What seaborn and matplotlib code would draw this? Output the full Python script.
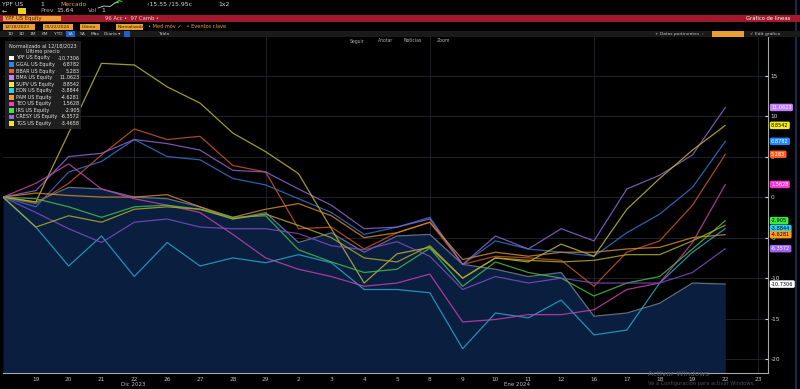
import matplotlib
matplotlib.use("Agg")
import matplotlib.pyplot as plt
import matplotlib.transforms as mtrans
from matplotlib.patches import Rectangle
import seaborn as sns
import pandas as pd

# ---------------- data ----------------
day_labels = ["18", "19", "20", "21", "22", "26", "27", "28", "29", "2", "3", "4",
              "5", "8", "9", "10", "11", "12", "16", "17", "18", "19", "22"]
tick_labels = day_labels[1:] + ["23"]

tickers = ["YPF US Equity", "GGAL US Equity", "BBAR US Equity", "BMA US Equity",
           "SUPV US Equity", "EDN US Equity", "PAM US Equity", "TEO US Equity",
           "IRS US Equity", "CRESY US Equity", "TGS US Equity"]
last_values = ["-10.7306", "6.8782", "5.283", "11.0623", "8.8542", "-3.8844",
               "-4.6281", "1.5628", "-2.905", "-6.3572", "-3.4658"]

ypf = [0, -0.6, 1.2, 1.0, 0, -0.2, -1.2, -2.7, -1.9, -5.6, -4.4, -6.8,
       -4.8, -4.6, -8.3, -8.9, -9.8, -9.3, -14.7, -14.3, -13.1, -10.6, -10.73]
ggal = [0, -1.2, 3.1, 4.4, 7.1, 5.0, 4.6, 2.3, 1.5, -0.2, -1.9, -4.6,
        -3.7, -2.5, -8.3, -5.4, -6.4, -6.8, -7.3, -4.4, -2.1, 1.2, 6.88]
bbar = [0, -0.8, 1.7, 5.2, 8.4, 7.1, 7.5, 3.9, 3.1, -3.9, -3.7, -6.4,
        -4.4, -3.1, -8.3, -7.3, -7.5, -7.8, -11.0, -6.8, -5.4, -1.0, 5.28]
bma = [0, 0.8, 5.0, 5.4, 7.1, 6.6, 5.8, 3.3, 3.1, 1.0, -1.0, -3.9,
       -3.7, -2.7, -8.3, -4.8, -6.4, -3.9, -5.4, 1.0, 2.7, 5.2, 11.06]
supv = [0, -0.6, 7.9, 16.5, 16.3, 13.6, 11.6, 7.9, 5.6, 2.9, -3.9, -10.6,
        -7.0, -6.2, -10.0, -7.5, -8.0, -5.8, -7.3, -1.5, 2.3, 5.8, 8.85]
edn = [0, -3.7, -8.5, -4.8, -9.8, -5.6, -8.5, -7.5, -8.1, -7.1, -8.1, -11.4,
       -11.4, -11.8, -18.7, -14.3, -14.9, -12.7, -17.0, -16.4, -10.6, -6.8, -3.88]
pam = [0, 0.5, 0.2, 0, 0, 0.3, -1.2, -2.5, -1.5, -0.8, -2.3, -5.0,
       -4.4, -3.1, -7.7, -6.8, -7.3, -6.8, -6.8, -6.4, -6.2, -5.0, -4.63]
teo = [0, 1.7, 4.1, 1.0, -0.2, -1.0, -1.9, -4.6, -7.5, -8.9, -9.8, -11.0,
       -10.6, -9.5, -15.4, -15.1, -14.5, -14.5, -13.9, -11.4, -10.6, -5.6, 1.56]
irs = [0, -0.2, -1.2, -2.5, -1.2, -1.0, -1.5, -2.5, -2.3, -6.5, -8.0, -9.3,
       -8.9, -6.3, -11.0, -8.0, -9.3, -10.0, -12.2, -10.6, -9.8, -6.4, -2.905]
cresy = [0, -1.9, -3.9, -5.6, -3.1, -2.7, -3.7, -3.9, -3.9, -4.5, -6.0, -6.5,
         -5.5, -7.3, -11.4, -9.8, -10.6, -10.0, -10.6, -10.6, -10.6, -9.3, -6.36]
tgs = [0, -3.7, -2.3, -3.1, -1.5, -1.2, -1.5, -2.7, -2.1, -3.5, -5.0, -7.5,
       -8.0, -6.0, -10.0, -7.5, -7.8, -8.0, -7.8, -7.1, -7.1, -5.4, -3.47]

series = [ypf, ggal, bbar, bma, supv, edn, pam, teo, irs, cresy, tgs]

line_colors = ["#70819a", "#2f74d0", "#c8532c", "#8a64cc", "#bcb434", "#24a6c8",
               "#d08a2c", "#c440ac", "#46bb46", "#7a4cc0", "#b0a828"]
legend_colors = ["#ffffff", "#1e88ff", "#ff5a1e", "#c080ff", "#f5ec1e", "#1ed2ff",
                 "#ff9c1e", "#ff36d2", "#3ceb3c", "#a062f5", "#f5e61e"]
label_text_colors = ["#000000", "#ffffff", "#ffffff", "#ffffff", "#000000", "#000000",
                     "#000000", "#ffffff", "#000000", "#ffffff", "#000000"]

rows = []
for t, vals in zip(tickers, series):
    for i, v in enumerate(vals):
        rows.append({"idx": i, "value": v, "ticker": t})
df = pd.DataFrame(rows)

# ---------------- figure ----------------
sns.set_theme(style="dark")
plt.rcParams['font.family'] = ['DejaVu Sans']

W, H = 800, 389
fig = plt.figure(figsize=(8, 3.89), dpi=100)
fig.patch.set_facecolor("black")


def fx(x):
    return x / W


def fy(y):
    return 1 - y / H


def frect(x, y, w, h, color, z=1, alpha=1.0):
    fig.patches.append(Rectangle((fx(x), fy(y + h)), w / W, h / H, transform=fig.transFigure,
                                 facecolor=color, edgecolor="none", zorder=z, alpha=alpha))


def ftext(x, y, s, size=4.2, color="#d0d0d0", ha="left", weight="normal", z=5):
    fig.text(fx(x), fy(y), s, fontsize=size, color=color, ha=ha, va="center",
             fontweight=weight, zorder=z)


ax = fig.add_axes([fx(3), fy(373), (768 - 3) / W, (373 - 37) / H])
ax.set_facecolor("black")
ax.set_xlim(0, 23.3)
ax.set_ylim(-21.7, 19.75)

# grid
for yv in range(-20, 20, 5):
    ax.axhline(yv, color="#23282e", lw=0.6, zorder=0)
for xv in [4, 8, 13, 18, 23]:
    ax.axvline(xv, color="#23282e", lw=0.6, zorder=0)

# YPF area
ax.fill_between(range(len(ypf)), ypf, -21.7, color="#0a1e3f", zorder=1, lw=0)

palette = dict(zip(tickers, line_colors))
sns.lineplot(data=df, x="idx", y="value", hue="ticker", palette=palette,
             hue_order=tickers, legend=False, linewidth=0.9, ax=ax, zorder=3, alpha=0.85)

# axes styling
ax.yaxis.tick_right()
ax.set_yticks(range(-20, 20, 5))
ax.set_yticklabels([str(v) for v in range(-20, 20, 5)])
ax.tick_params(axis="y", colors="#d8d8d8", labelsize=4.2, length=2, width=0.8, pad=2,
               direction="in")
ax.set_xticks(range(1, 24))
ax.set_xticklabels(tick_labels)
ax.tick_params(axis="x", colors="#bdbdbd", labelsize=4.2, length=0, pad=3)
ax.set_xlabel("")
ax.set_ylabel("")
ax.grid(False)
for s in ["top", "left"]:
    ax.spines[s].set_visible(False)
for s in ["bottom", "right"]:
    ax.spines[s].set_color("#a8a8a8")
    ax.spines[s].set_linewidth(0.8)

# month labels
ftext(133, 384, "Dic 2023", size=4.0, color="#bdbdbd", ha="center")
ftext(517, 384, "Ene 2024", size=4.0, color="#bdbdbd", ha="center")

# right value labels (all but TGS, hidden in the reference)
blend = mtrans.blended_transform_factory(ax.transAxes, ax.transData)
for t, vals, col, tc, lab in zip(tickers, series, legend_colors, label_text_colors, last_values):
    if t.startswith("TGS"):
        continue
    ax.text(1.004, vals[-1], lab, transform=blend, fontsize=3.6, color=tc, va="center",
            ha="left", zorder=10, clip_on=False,
            bbox=dict(boxstyle="round,pad=0.25,rounding_size=0.3", fc=col, ec="none"))

# legend box
frect(5, 41, 76, 88, "#232323", z=6, alpha=0.9)
ftext(43, 45.5, "Normalizado al 12/18/2023", size=3.6, color="#e0e0e0", ha="center", z=7)
ftext(43, 51.5, "Último precio", size=3.6, color="#e0e0e0", ha="center", z=7)
for k, (t, col, lab) in enumerate(zip(tickers, legend_colors, last_values)):
    yy = 58 + k * 6.55
    frect(9, yy - 2.3, 4.6, 4.6, col, z=7)
    ftext(16, yy, t, size=3.5, color="#e6e6e6", z=7)
    ftext(80, yy, lab, size=3.5, color="#e6e6e6", ha="right", z=7)

# ---------------- top Bloomberg UI ----------------
ftext(2, 4, "YPF US", size=4.4, color="#d8d8d8")
ftext(40, 4, "1", size=4.4, color="#d8d8d8")
ftext(60, 4, "Mercado", size=4.4, color="#e8a030")
fig.lines.append(plt.Line2D([fx(98), fx(104), fx(110), fx(115), fx(119)],
                            [fy(8), fy(6), fy(6.5), fy(3), fy(2)],
                            transform=fig.transFigure, color="#d8d8d8", lw=0.6))
fig.lines.append(plt.Line2D([fx(114), fx(119), fx(122)], [fy(3.5), fy(0.5), fy(1.5)],
                            transform=fig.transFigure, color="#30e030", lw=0.7))
ftext(147, 4, "‹15.55 /15.95c", size=4.4, color="#d8d8d8")
ftext(218, 4, "1x2", size=4.4, color="#d8d8d8")
ftext(2, 11, "←", size=4.4, color="#d8d8d8")
frect(18, 8, 8, 6, "#e8d020")
ftext(40, 11, "Prev", size=4.4, color="#a8a8a8")
ftext(56, 11, "15.64", size=4.4, color="#d8d8d8")
ftext(88, 11, "Vol", size=4.4, color="#a8a8a8")
ftext(101, 11, "1", size=4.4, color="#d8d8d8")

frect(0, 15, 800, 6.5, "#a3192c")
frect(3, 15.5, 58, 5.5, "#f0a030")
ftext(5, 18.3, "YPF US Equity", size=3.8, color="#3a2000")
ftext(105, 18.3, "96 Acc •  97 Camb •", size=3.8, color="#f0d0d0")
ftext(790, 18.3, "Gráfico de líneas", size=3.8, color="#ffffff", ha="right")

for (x0, w, s) in [(3, 32, "12/18/2023"), (43, 30, "01/22/2024"), (80, 20, "Último"),
                   (116, 27, "Normalizado")]:
    frect(x0, 24, w, 6, "#e8a030")
    ftext(x0 + 2, 27, s, size=3.2, color="#3a2000")
ftext(148, 27, "• Med móv ✓   • Eventos clave", size=3.6, color="#e8a030")

frect(0, 31, 800, 6, "#1a1a1a")
xs = [8, 19, 30, 42, 54, 68, 80, 91, 104]
for x0, s in zip(xs, ["1D", "3D", "1M", "6M", "YTD", "1A", "5A", "Máx", "Diaria ▾"]):
    if s == "1A":
        frect(x0 - 2, 31.5, 9, 5, "#2060c0")
    ftext(x0, 34, s, size=3.2, color="#c8c8c8")
frect(124, 31.5, 6, 5, "#2060c0")
ftext(158, 34, "Tabla", size=3.2, color="#c8c8c8")
ftext(655, 34, "+ Datos pertinentes  ›", size=3.2, color="#c8c8c8")
frect(712, 31.5, 32, 5, "#e8a030")
ftext(750, 34, "✓ Edit gráfico", size=3.2, color="#c8c8c8")

for x0, s in [(350, "Seguir"), (378, "Anotar"), (404, "Noticias"), (437, "Zoom")]:
    ftext(x0, 41, s, size=3.3, color="#b0b0b0", z=6)

# right-edge blue bar
frect(795, 0, 2, 389, "#1b2a48", z=0)

# watermark (overlaps the axis labels as in the reference)
ftext(648, 374, "Activar Windows", size=5.3, color="#555a6a", z=12)
ftext(648, 383.5, "Ve a Configuración para activar Windows.", size=3.7, color="#4c505c", z=12)

fig.savefig("out.png", dpi=100, facecolor="black")
